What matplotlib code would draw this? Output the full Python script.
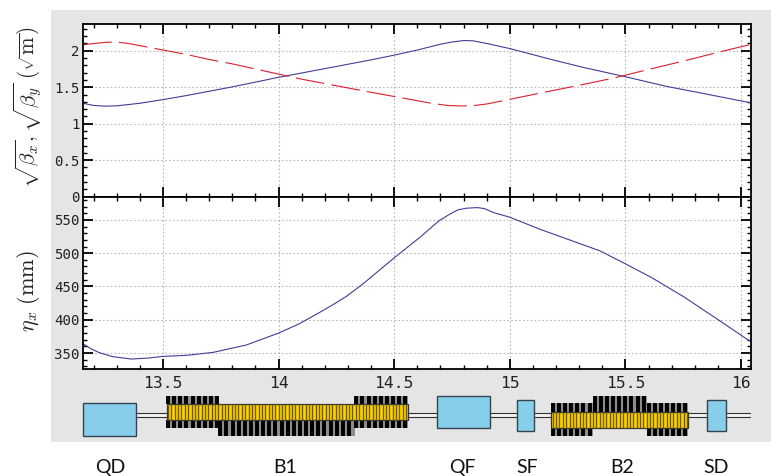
import numpy as np
import matplotlib
matplotlib.use('Agg')
import matplotlib.pyplot as plt
from matplotlib.patches import Rectangle
from matplotlib.ticker import MultipleLocator

W, H = 771, 476

# optics
s_bx = [13.154, 13.2, 13.25, 13.3, 13.4, 13.5, 13.6, 13.7, 13.8, 13.9, 14.0, 14.1, 14.2, 14.3, 14.4, 14.5, 14.6, 14.7, 14.75, 14.8, 14.84, 14.9, 15.0, 15.18, 15.32, 15.5, 15.68, 15.82, 16.02, 16.042]
beta_x = [1.28, 1.25, 1.24, 1.245, 1.28, 1.33, 1.385, 1.445, 1.505, 1.57, 1.636, 1.695, 1.755, 1.815, 1.875, 1.94, 2.01, 2.09, 2.12, 2.14, 2.137, 2.10, 2.03, 1.88, 1.77, 1.644, 1.51, 1.425, 1.30, 1.285]
s_by = [13.154, 13.2, 13.25, 13.3, 13.35, 13.4, 13.5, 13.6, 13.7, 13.8, 13.9, 14.0, 14.1, 14.2, 14.3, 14.4, 14.545, 14.66, 14.73, 14.79, 14.84, 14.9, 14.985, 15.14, 15.29, 15.45, 15.6, 15.75, 15.91, 16.042]
beta_y = [2.08, 2.10, 2.115, 2.12, 2.10, 2.07, 2.01, 1.95, 1.88, 1.82, 1.75, 1.68, 1.61, 1.55, 1.49, 1.43, 1.347, 1.28, 1.25, 1.243, 1.247, 1.27, 1.324, 1.425, 1.52, 1.626, 1.744, 1.858, 1.986, 2.087]
s_eta = [13.154, 13.19, 13.225, 13.283, 13.363, 13.44, 13.5, 13.6, 13.717, 13.86, 14.0, 14.09, 14.18, 14.237, 14.295, 14.367, 14.5, 14.61, 14.695, 14.74, 14.775, 14.81, 14.86, 14.89, 14.93, 15.0, 15.13, 15.25, 15.39, 15.5, 15.61, 15.75, 15.895, 16.025, 16.042]
eta_x = [364, 356, 350.5, 344.5, 341, 342.5, 345, 346.5, 351, 362, 380, 394, 411.5, 423, 435.5, 454.5, 493, 523.5, 549, 558.5, 565, 567.5, 568.5, 567, 561, 554, 536, 521, 503.5, 484, 464, 435, 401.5, 371, 367.5]

x_ticks = [13.5, 14, 14.5, 15, 15.5, 16]
x_ticklabels = ['13.5', '14', '14.5', '15', '15.5', '16']
top_ticks = [0, 0.5, 1, 1.5, 2]
top_ticklabels = ['0', '0.5', '1', '1.5', '2']
eta_ticks = [350, 400, 450, 500, 550]

# magnets: s start, s end, y top, y bottom (lattice strip runs in image rows)
quad_start = [13.154, 14.686, 15.03, 15.855]
quad_end = [13.385, 14.914, 15.105, 15.935]
quad_top = [403, 396, 400, 400]
quad_bottom = [436, 428, 431.5, 431.5]
bend_start = [13.516, 15.18]
bend_end = [14.558, 15.77]
bend_top = [404, 411.7]
bend_bottom = [420, 428]
coil_start = [13.516, 13.516, 13.742, 14.33, 14.33, 15.18, 15.18, 15.361, 15.594, 15.594]
coil_end = [13.742, 13.742, 14.33, 14.558, 14.558, 15.361, 15.361, 15.594, 15.77, 15.77]
coil_top = [396, 420, 420, 396, 420, 403.5, 428, 396, 403.5, 428]
coil_bottom = [404, 428, 436, 404, 428, 411.7, 436, 411.7, 411.7, 436]
names = ['QD', 'B1', 'QF', 'SF', 'B2', 'SD']
name_px = [110, 285, 462, 527, 622, 716]

BLUE = '#443c96'
RED = '#d9202f'
XLIM = (13.154, 16.042)
LEFT, RIGHT = 83, 750.7


def px_axes(fig, x0, x1, ytop, ybot):
    return fig.add_axes([x0 / W, 1 - ybot / H, (x1 - x0) / W, (ybot - ytop) / H])


def style_axes(ax):
    ax.set_xlim(*XLIM)
    ax.xaxis.set_major_locator(MultipleLocator(0.5))
    ax.xaxis.set_minor_locator(MultipleLocator(0.1))
    ax.grid(True, which='major', color='#b8b8b8', linestyle=(0, (1.5, 2)), linewidth=0.8)
    ax.tick_params(which='major', direction='in', length=7.5, width=1.3, top=True, right=True)
    ax.tick_params(which='minor', direction='in', length=3, width=1.0, top=True, right=True)
    for sp in ax.spines.values():
        sp.set_linewidth(1.3)


plt.rcParams['mathtext.fontset'] = 'cm'
fig = plt.figure(figsize=(W / 100, H / 100), dpi=100, facecolor='white')
fig.patches.append(Rectangle((51 / W, 1 - 441.5 / H), (W - 51) / W, 431.5 / H, transform=fig.transFigure,
                             facecolor='#e5e5e5', edgecolor='none', zorder=-5))

ax1 = px_axes(fig, LEFT, RIGHT, 24, 196.6)
style_axes(ax1)
ax1.set_ylim(0, 2.367)
ax1.yaxis.set_minor_locator(MultipleLocator(0.1))
ax1.plot(s_bx, beta_x, color=BLUE, linewidth=0.8)
ax1.plot(s_by, beta_y, color=RED, linewidth=0.8, dashes=(26, 6.5), dash_capstyle='butt')
ax1.set_yticks(top_ticks)
ax1.set_yticklabels(top_ticklabels, family='DejaVu Sans Mono', fontsize=10.2, color='#222222')
ax1.set_xticks(x_ticks)
ax1.tick_params(axis='x', which='both', labelbottom=False)
ax1.tick_params(axis='y', which='major', pad=2.5)

ax2 = px_axes(fig, LEFT, RIGHT, 196.6, 369)
style_axes(ax2)
ax2.set_ylim(326, 585)
ax2.yaxis.set_minor_locator(MultipleLocator(10))
ax2.plot(s_eta, eta_x, color=BLUE, linewidth=0.8)
ax2.set_yticks(eta_ticks)
ax2.set_yticklabels([str(v) for v in eta_ticks], family='DejaVu Sans Mono', fontsize=10.2, color='#222222')
ax2.set_xticks(x_ticks)
ax2.set_xticklabels(x_ticklabels, family='DejaVu Sans Mono', fontsize=11.8, color='#222222')
ax2.tick_params(axis='x', which='major', pad=5)
ax2.tick_params(axis='y', which='major', pad=2.5)

fig.text(28 / W, 1 - 107 / H, r'$\sqrt{\beta_x},\sqrt{\beta_y}\ (\sqrt{\mathrm{m}})$', rotation=90,
         fontsize=15.2, ha='center', va='center', color='#222222')
fig.text(29 / W, 1 - 291.5 / H, r'$\eta_x\ (\mathrm{mm})$', rotation=90,
         fontsize=16, ha='center', va='center', color='#222222')

# lattice strip, y in image rows so the shapes line up with the plots above
lat = px_axes(fig, LEFT, RIGHT, 392, 441)
lat.set_xlim(*XLIM)
lat.set_ylim(441, 392)
lat.axis('off')
lat.add_patch(Rectangle((XLIM[0], 413.5), XLIM[1] - XLIM[0], 3.5, facecolor='#f2f2f2', edgecolor='#333333',
                        linewidth=0.8, zorder=1))
for a, b, t, bo in zip(coil_start, coil_end, coil_top, coil_bottom):
    lat.add_patch(Rectangle((a, t), b - a, bo - t, facecolor='#8c8c8c', edgecolor='none', zorder=2))
    lat.vlines(np.arange(a + 0.006, b, 0.0265), t, bo, color='black', linewidth=2.8, zorder=3)
for a, b, t, bo in zip(bend_start, bend_end, bend_top, bend_bottom):
    lat.add_patch(Rectangle((a, t), b - a, bo - t, facecolor='#ffd400', edgecolor='#333333', linewidth=0.9, zorder=4))
    lat.vlines(np.arange(a + 0.006, b, 0.0145), t, bo, color='#6e5a00', linewidth=1.0, zorder=5)
for a, b, t, bo in zip(quad_start, quad_end, quad_top, quad_bottom):
    lat.add_patch(Rectangle((a, t), b - a, bo - t, facecolor='#87ceeb', edgecolor='#33444d', linewidth=1.0, zorder=6,
                            clip_on=False))

for name, xp in zip(names, name_px):
    fig.text(xp / W, 1 - 473 / H, name, family='Lato', fontsize=14, ha='center', va='baseline', color='#111111')

fig.savefig('out.png', dpi=100, facecolor='white')
